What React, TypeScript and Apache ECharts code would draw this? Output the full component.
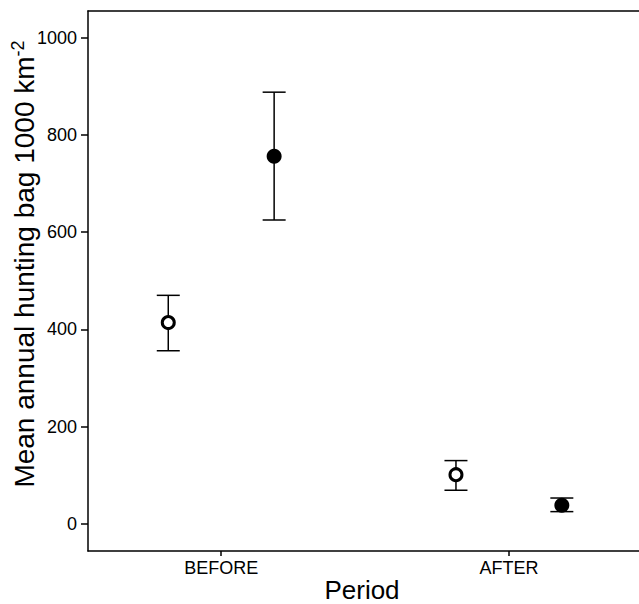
import React, { useEffect, useRef } from "react";
import * as echarts from "echarts";

const periods = ["BEFORE", "AFTER"];
const yTicks = [0, 200, 400, 600, 800, 1000];

// open circles (first group)
const openMean = [414, 101];
const openLow = [356, 69];
const openHigh = [470, 130];

// filled circles (second group)
const filledMean = [756, 38];
const filledLow = [625, 25];
const filledHigh = [888, 53];

const DODGE = 0.184;
const FONT = "'Liberation Sans', Arial, sans-serif";

export default function App() {
  const ref = useRef<HTMLDivElement>(null);

  useEffect(() => {
    if (!ref.current) return;
    const chart = echarts.init(ref.current, undefined, { renderer: "svg" });

    const pos = (i: number, off: number) => i + 1 + off;
    const openPts = openMean.map((v, i) => [pos(i, -DODGE), v]);
    const filledPts = filledMean.map((v, i) => [pos(i, DODGE), v]);
    const openErr = openMean.map((_, i) => [pos(i, -DODGE), openLow[i], openHigh[i]]);
    const filledErr = filledMean.map((_, i) => [pos(i, DODGE), filledLow[i], filledHigh[i]]);

    const renderErr = (params: any, api: any) => {
      const x = api.value(0);
      const lo = api.coord([x, api.value(1)]);
      const hi = api.coord([x, api.value(2)]);
      const hw = 11.5;
      const st = { stroke: "#000", lineWidth: 1.5, fill: "none" };
      return {
        type: "group",
        children: [
          { type: "line", shape: { x1: lo[0], y1: lo[1], x2: hi[0], y2: hi[1] }, style: st },
          { type: "line", shape: { x1: lo[0] - hw, y1: lo[1], x2: lo[0] + hw, y2: lo[1] }, style: st },
          { type: "line", shape: { x1: hi[0] - hw, y1: hi[1], x2: hi[0] + hw, y2: hi[1] }, style: st },
        ],
      };
    };

    const X_MIN = 0.537;
    const X_MAX = 2.5252;

    chart.setOption({
      animation: false,
      backgroundColor: "#fff",
      grid: { left: 88, right: 40, top: 11, bottom: 53, outerBoundsMode: "none", containLabel: false, show: false },
      xAxis: [
        {
          type: "value",
          min: X_MIN,
          max: X_MAX,
          name: "Period",
          nameLocation: "middle",
          nameGap: 26,
          nameMoveOverlap: false,
          nameTextStyle: { fontFamily: FONT, fontSize: 26, color: "#000", padding: [0, 24, 0, 0] },
          axisLine: { show: true, onZero: false, lineStyle: { color: "#000", width: 1.5 } },
          axisTick: { show: true, length: 5, customValues: [1, 2], lineStyle: { color: "#000", width: 1.5 } },
          axisLabel: {
            customValues: [1, 2],
            formatter: (v: number) => periods[Math.round(v) - 1] ?? "",
            fontFamily: FONT,
            fontSize: 18,
            color: "#000",
            margin: 8,
          },
          splitLine: { show: false },
          splitArea: { show: false },
        },
        {
          type: "value",
          position: "top",
          min: X_MIN,
          max: X_MAX,
          axisLine: { show: true, onZero: false, lineStyle: { color: "#000", width: 1.5 } },
          axisTick: { show: false },
          axisLabel: { show: false },
          splitLine: { show: false },
          splitArea: { show: false },
        },
      ],
      yAxis: {
        type: "value",
        min: -56,
        max: 1055,
        axisLine: { show: true, onZero: false, lineStyle: { color: "#000", width: 1.5 } },
        axisTick: { show: true, length: 7, customValues: yTicks, lineStyle: { color: "#000", width: 1.5 } },
        axisLabel: {
          customValues: yTicks,
          formatter: (v: number) => String(v),
          fontFamily: FONT,
          fontSize: 18,
          color: "#000",
          margin: 11,
        },
        splitLine: { show: false },
        splitArea: { show: false },
      },
      graphic: [
        {
          type: "text",
          x: 24,
          y: 264,
          rotation: Math.PI / 2,
          style: {
            text: "Mean annual hunting bag 1000 km{sup|-2}",
            fontFamily: FONT,
            fontSize: 28,
            fill: "#000",
            align: "center",
            verticalAlign: "middle",
            rich: {
              sup: { fontFamily: FONT, fontSize: 18, padding: [0, 0, 13, 0], fill: "#000" },
            },
          },
        },
      ],
      series: [
        { type: "custom", renderItem: renderErr, data: openErr, z: 2 },
        { type: "custom", renderItem: renderErr, data: filledErr, z: 2 },
        {
          type: "scatter",
          data: openPts,
          symbol: "circle",
          symbolSize: 12,
          itemStyle: { color: "#fff", borderColor: "#000", borderWidth: 3, opacity: 1 },
          z: 5,
        },
        {
          type: "scatter",
          data: filledPts,
          symbol: "circle",
          symbolSize: 15,
          itemStyle: { color: "#000", opacity: 1 },
          z: 5,
        },
      ],
    });

    return () => chart.dispose();
  }, []);

  return (
    <div
      ref={ref}
      style={{ position: "fixed", left: 0, top: 0, width: 700, height: 604, background: "#fff" }}
    />
  );
}
